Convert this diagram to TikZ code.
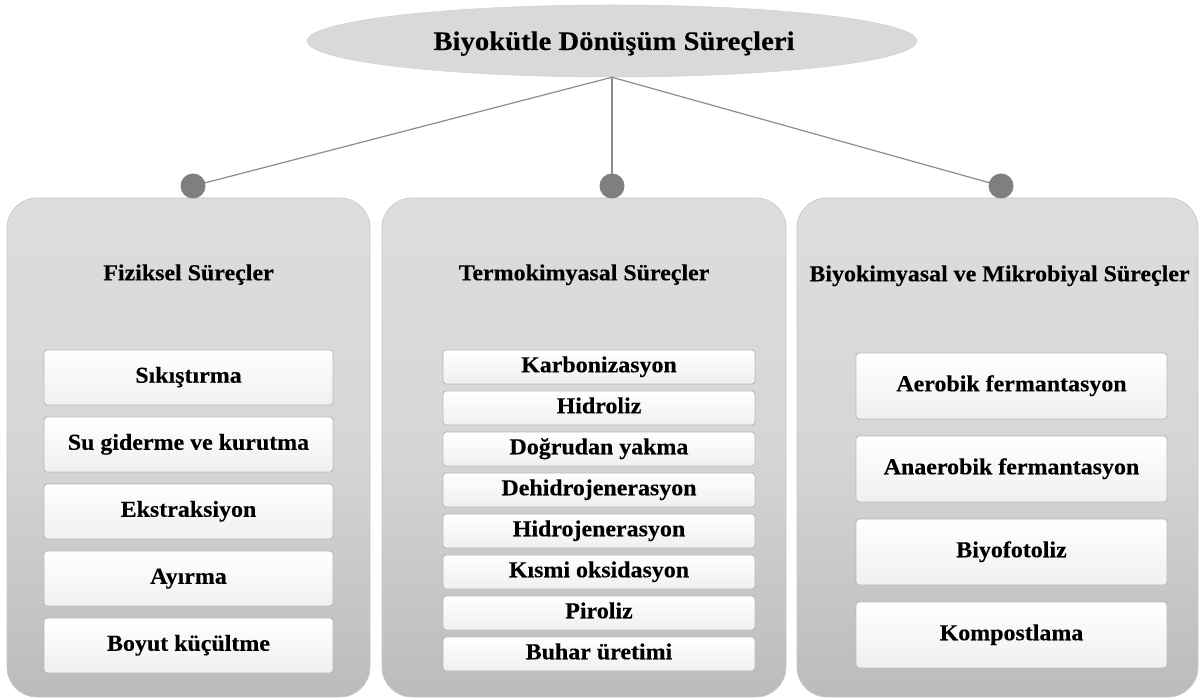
\documentclass[tikz,border=0pt]{standalone}
\usepackage{fontspec}
\setmainfont[FakeStretch=1.05, BoldFeatures={FakeBold=0.25}]{Liberation Serif}
\newfontfamily\titlefont[FakeStretch=1.07, BoldFeatures={FakeBold=0.25}]{Liberation Serif}
\usetikzlibrary{shapes.geometric}
\definecolor{pTop}{HTML}{DDDDDD}
\definecolor{pMid}{HTML}{D6D6D6}
\definecolor{pBot}{HTML}{BBBBBB}
\definecolor{ellFill}{HTML}{D9D9D9}
\definecolor{dotGray}{HTML}{7F7F7F}
\definecolor{lineGray}{HTML}{8C8C8C}
\definecolor{itemEdge}{HTML}{B8B8B8}
\begin{document}
\begin{tikzpicture}[x=1pt,y=-1pt,
  panelbox/.style={rectangle, rounded corners=30pt, draw=black!22, line width=0.7pt,
    top color=pTop, bottom color=pBot, middle color=pMid, inner sep=0pt, minimum height=499pt},
  item/.style={rectangle, rounded corners=3pt, draw=itemEdge, line width=0.9pt,
    top color=white, bottom color=black!6, inner sep=0pt,
    font=\fontsize{22.8}{26}\selectfont\bfseries, text height=15.5pt, text depth=5pt},
  ptitle/.style={font=\fontsize{22.8}{27}\selectfont\bfseries, inner sep=0pt,
    text height=15.5pt, text depth=5pt},
  dot/.style={circle, fill=dotGray, minimum size=25pt, inner sep=0pt},
  link/.style={draw=lineGray, line width=1.2pt},
  mainell/.style={ellipse, fill=ellFill, draw=black!18, line width=0.5pt, inner sep=0pt,
    minimum width=610pt, minimum height=72pt},
  toplabel/.style={font=\titlefont\fontsize{26.8}{30}\selectfont\bfseries, inner sep=0pt,
    text height=18pt, text depth=6pt}
]
\useasboundingbox (0,0) rectangle (1202,700);

% main title
\node[mainell] (top) at (612,41) {};
\node[toplabel] (toptext) at (614,44) {Biyokütle Dönüşüm Süreçleri};

% panels
\node[panelbox, minimum width=363pt] (p1) at (188.5,447.5) {};
\node[panelbox, minimum width=404pt] (p2) at (584,447.5) {};
\node[panelbox, minimum width=401pt] (p3) at (997.5,447.5) {};

% connectors and dots
\coordinate (d1c) at (193,186);
\coordinate (d2c) at (612,186);
\coordinate (d3c) at (1001,186);
\draw[link] (top.south) -- (d1c);
\draw[link] (top.south) -- (d2c);
\draw[link] (top.south) -- (d3c);
\node[dot] (d1) at (d1c) {};
\node[dot] (d2) at (d2c) {};
\node[dot] (d3) at (d3c) {};

% panel titles
\node[ptitle] (t1) at (188.5,275) {Fiziksel Süreçler};
\node[ptitle] (t2) at (584,275) {Termokimyasal Süreçler};
\node[ptitle] (t3) at (999.5,276) {Biyokimyasal ve Mikrobiyal Süreçler};

% left items
\begin{scope}[every node/.style={item, minimum width=289pt, minimum height=55pt}]
\node (l1) at (188.5,377.5) {Sıkıştırma};
\node (l2) at (188.5,444.5) {Su giderme ve kurutma};
\node (l3) at (188.5,511.5) {Ekstraksiyon};
\node (l4) at (188.5,578.5) {Ayırma};
\node (l5) at (188.5,645.5) {Boyut küçültme};
\end{scope}

% middle items
\begin{scope}[every node/.style={item, minimum width=312pt, minimum height=34pt}]
\node (m1) at (599,367) {Karbonizasyon};
\node (m2) at (599,408) {Hidroliz};
\node (m3) at (599,449) {Doğrudan yakma};
\node (m4) at (599,490) {Dehidrojenerasyon};
\node (m5) at (599,531) {Hidrojenerasyon};
\node (m6) at (599,572) {Kısmi oksidasyon};
\node (m7) at (599,613) {Piroliz};
\node (m8) at (599,654) {Buhar üretimi};
\end{scope}

% right items
\begin{scope}[every node/.style={item, minimum width=311pt, minimum height=66pt}]
\node (r1) at (1011.5,386) {Aerobik fermantasyon};
\node (r2) at (1011.5,469) {Anaerobik fermantasyon};
\node (r3) at (1011.5,552) {Biyofotoliz};
\node (r4) at (1011.5,635) {Kompostlama};
\end{scope}
\end{tikzpicture}
\end{document}
